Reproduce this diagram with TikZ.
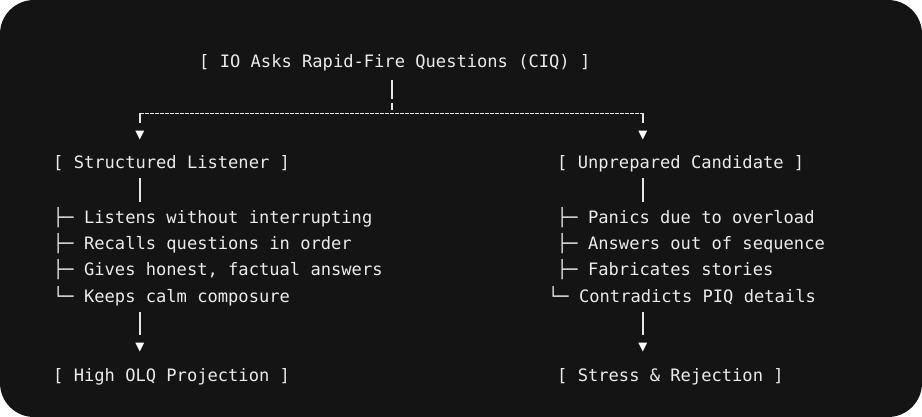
\documentclass[tikz,border=0pt]{standalone}
\usepackage{fontspec}
\setmainfont{DejaVu Sans Mono}
\begin{document}
\begin{tikzpicture}[x=1pt,y=-1pt,
  t/.style={anchor=base west,inner sep=0pt,text=white!92!black,font=\fontsize{17.1}{20}\selectfont},
  ln/.style={draw=white!90!black,line width=1.3pt},
  tip/.style={anchor=center,inner sep=0pt,text=white,font=\fontsize{15}{16}\selectfont}]
\fill[white] (0,0) rectangle (922,417);
\fill[black!92!white,rounded corners=34pt] (0,0) rectangle (922,417);
\node[t] (title) at (199,68) {[ IO Asks Rapid-Fire Questions (CIQ) ]};
\coordinate (j1) at (392,80);
\coordinate (j2) at (392,110);
\coordinate (hl) at (140,113);
\coordinate (hr) at (643,113);
\draw[ln] (j1) -- (392,99);
\draw[ln] (392,103) -- (j2);
\draw[ln,line width=0.9pt,dash pattern=on 4pt off 1pt] (hl) -- (hr);
\draw[ln] (hl) -- (140,123);
\draw[ln] (hr) -- (643,123);
\node[tip] (al) at (140,136) {▼};
\node[tip] (ar) at (643,136) {▼};
\node[t] (sl) at (53,169) {[ Structured Listener ]};
\node[t] (uc) at (557,169) {[ Unprepared Candidate ]};
\draw[ln] (140,178) -- (140,202);
\draw[ln] (643,178) -- (643,202);
\node[t] (l1) at (53,223) {├─ Listens without interrupting};
\node[t] (l2) at (53,250) {├─ Recalls questions in order};
\node[t] (l3) at (53,276) {├─ Gives honest, factual answers};
\node[t] (l4) at (53,302) {└─ Keeps calm composure};
\node[t] (r1) at (557,223) {├─ Panics due to overload};
\node[t] (r2) at (557,250) {├─ Answers out of sequence};
\node[t] (r3) at (557,276) {├─ Fabricates stories};
\node[t] (r4) at (548,302) {└─ Contradicts PIQ details};
\draw[ln] (140,312) -- (140,335);
\draw[ln] (643,312) -- (643,335);
\node[tip] (bl) at (140,348) {▼};
\node[tip] (br) at (643,348) {▼};
\node[t] (ho) at (53,381) {[ High OLQ Projection ]};
\node[t] (sr) at (557,381) {[ Stress \& Rejection ]};
\end{tikzpicture}
\end{document}
